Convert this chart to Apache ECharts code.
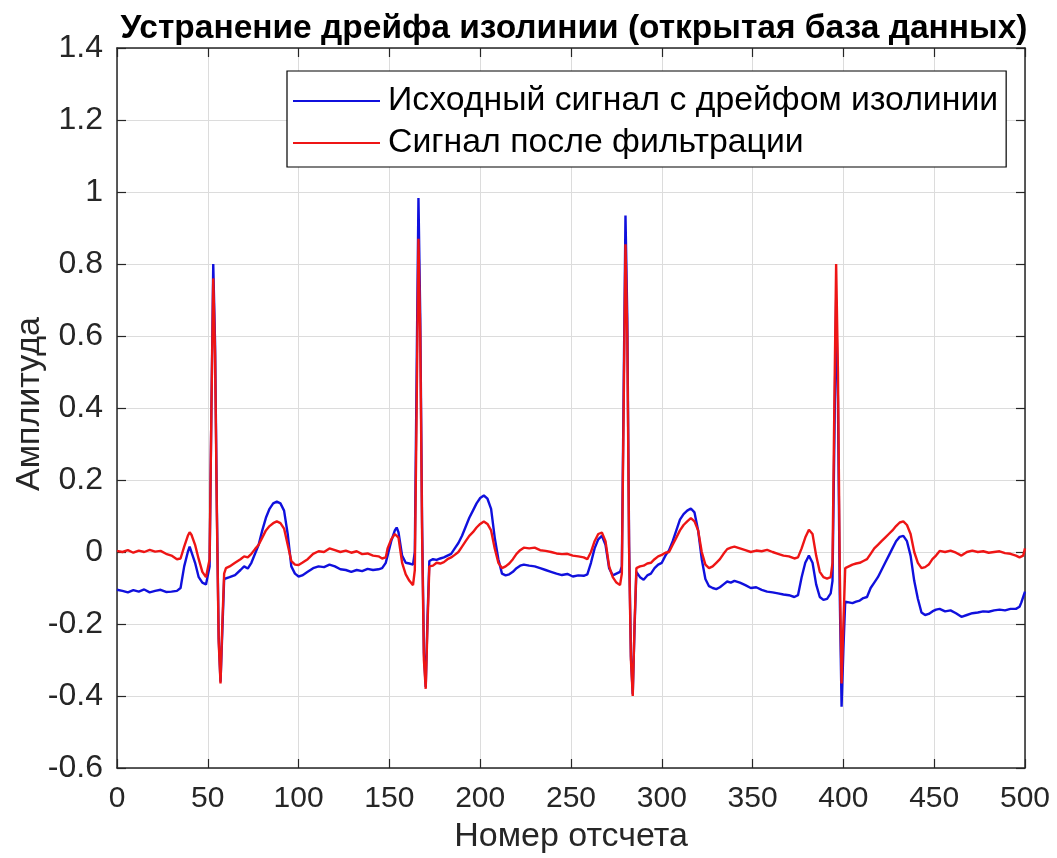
<!DOCTYPE html>
<html>
<head>
<meta charset="utf-8">
<script src="https://cdn.jsdelivr.net/npm/echarts@6/dist/echarts.min.js"></script>
<style>
  html, body { margin: 0; padding: 0; background: #fff; }
  #chart { width: 1057px; height: 858px; }
</style>
</head>
<body>
<div id="chart"></div>
<script>
// Sample numbers (x) shared by both traces
const sampleIdx = [
  0, 3, 6, 9, 12, 15, 18, 21, 24, 27, 30, 33, 35, 37, 39, 40, 41, 43, 45, 47, 49, 50,
  51, 52, 53, 54, 55, 56, 57, 58, 59, 60, 62, 65, 68, 70, 72, 74, 76, 78, 80, 82, 84, 86, 88, 90,
  92, 94, 96, 98, 100, 102, 105, 108, 111, 114, 117, 120, 123, 126, 129, 132, 135, 138, 141, 144,
  146, 148, 149, 151, 153, 154, 155, 157, 159, 161, 163, 164, 165, 166, 167, 168, 169, 170, 171, 172,
  174, 176, 178, 180, 182, 184, 186, 188, 190, 192, 194, 196, 198, 200, 202, 204, 206, 208, 210, 212,
  214, 216, 218, 220, 222, 224, 227, 230, 233, 236, 239, 242, 245, 248, 251, 254, 257, 259, 261, 263,
  265, 267, 269, 271, 273, 275, 277, 278, 279, 280, 281, 282, 283, 284, 285, 286, 288, 290, 292, 294,
  296, 298, 300, 302, 304, 306, 308, 310, 312, 314, 316, 318, 320, 322, 324, 326, 328, 330, 332, 334,
  336, 338, 340, 343, 346, 349, 352, 355, 358, 361, 364, 367, 370, 373, 375, 377, 379, 381, 382, 383,
  385, 387, 389, 391, 393, 394, 395, 396, 397, 398, 399, 400, 401, 403, 405, 407, 409, 411, 413, 415,
  417, 419, 421, 423, 425, 427, 429, 431, 433, 435, 437, 439, 441, 443, 445, 447, 449, 451, 453, 456,
  459, 462, 465, 468, 471, 474, 477, 480, 483, 486, 489, 492, 495, 497, 498, 499, 500
];

// Raw ECG with baseline wander
const rawSignal = [
  -0.105, -0.108, -0.112, -0.106, -0.110, -0.104, -0.112, -0.108, -0.105, -0.111, -0.110, -0.108, -0.100, -0.040, 0.000, 0.015, 0.010, -0.030, -0.070, -0.085, -0.090, -0.085,
  -0.040, 0.400, 0.800, 0.580, 0.120, -0.240, -0.360, -0.220, -0.075, -0.072, -0.070, -0.064, -0.050, -0.040, -0.046, -0.030, -0.005, 0.020, 0.060, 0.095, 0.120, 0.135, 0.140, 0.135,
  0.115, 0.050, -0.040, -0.060, -0.068, -0.065, -0.055, -0.045, -0.040, -0.042, -0.035, -0.040, -0.048, -0.050, -0.055, -0.050, -0.053, -0.047, -0.050, -0.048,
  -0.045, -0.030, -0.010, 0.030, 0.060, 0.068, 0.055, -0.010, -0.030, -0.032, -0.035, 0.000, 0.500, 0.983, 0.650, 0.080, -0.280, -0.375, -0.180, -0.025,
  -0.020, -0.022, -0.018, -0.015, -0.010, -0.005, 0.010, 0.025, 0.045, 0.070, 0.095, 0.115, 0.135, 0.150, 0.157, 0.148, 0.120, 0.040, -0.020, -0.060,
  -0.065, -0.062, -0.055, -0.045, -0.038, -0.035, -0.038, -0.040, -0.045, -0.050, -0.055, -0.060, -0.064, -0.061, -0.068, -0.065, -0.066, -0.062, -0.030, 0.010,
  0.035, 0.045, 0.020, -0.045, -0.065, -0.060, -0.055, -0.040, 0.450, 0.935, 0.650, 0.020, -0.290, -0.395, -0.210, -0.055, -0.070, -0.077, -0.065, -0.060,
  -0.045, -0.035, -0.030, -0.010, 0.005, 0.030, 0.060, 0.090, 0.105, 0.115, 0.121, 0.110, 0.060, -0.020, -0.075, -0.095, -0.100, -0.103, -0.098, -0.090,
  -0.082, -0.085, -0.080, -0.085, -0.092, -0.100, -0.098, -0.105, -0.110, -0.112, -0.115, -0.118, -0.120, -0.125, -0.120, -0.070, -0.030, -0.010, -0.008, -0.030,
  -0.090, -0.125, -0.133, -0.130, -0.115, -0.080, 0.300, 0.700, 0.420, -0.120, -0.430, -0.270, -0.138, -0.140, -0.142, -0.138, -0.135, -0.128, -0.125, -0.100,
  -0.085, -0.070, -0.050, -0.030, -0.010, 0.010, 0.030, 0.042, 0.045, 0.030, -0.010, -0.080, -0.130, -0.168, -0.175, -0.172, -0.165, -0.160, -0.158, -0.165,
  -0.162, -0.170, -0.180, -0.175, -0.170, -0.168, -0.165, -0.166, -0.162, -0.160, -0.162, -0.158, -0.158, -0.152, -0.140, -0.125, -0.110
];

// Same record after baseline removal
const filteredSignal = [
  0.003, 0.000, 0.005, -0.002, 0.004, 0.000, 0.006, 0.001, 0.003, -0.005, -0.010, -0.020, -0.018, 0.015, 0.045, 0.055, 0.048, 0.020, -0.020, -0.055, -0.070, -0.068,
  -0.020, 0.400, 0.760, 0.550, 0.100, -0.250, -0.365, -0.200, -0.060, -0.045, -0.040, -0.030, -0.020, -0.012, -0.015, -0.005, 0.008, 0.020, 0.040, 0.060, 0.072, 0.080, 0.085, 0.080,
  0.065, 0.020, -0.025, -0.035, -0.036, -0.030, -0.020, -0.005, 0.002, 0.000, 0.010, 0.005, 0.000, 0.004, -0.002, 0.002, -0.006, -0.004, -0.010, -0.012,
  -0.018, -0.015, 0.010, 0.035, 0.050, 0.052, 0.040, -0.030, -0.062, -0.080, -0.092, -0.050, 0.400, 0.870, 0.600, 0.050, -0.300, -0.380, -0.200, -0.040,
  -0.038, -0.030, -0.032, -0.028, -0.020, -0.015, -0.008, 0.000, 0.015, 0.030, 0.045, 0.055, 0.068, 0.078, 0.085, 0.078, 0.060, 0.010, -0.030, -0.045,
  -0.040, -0.032, -0.020, -0.005, 0.005, 0.012, 0.010, 0.012, 0.005, 0.003, 0.000, -0.004, -0.006, -0.005, -0.010, -0.012, -0.015, -0.020, 0.000, 0.030,
  0.050, 0.054, 0.030, -0.040, -0.070, -0.085, -0.092, -0.060, 0.400, 0.855, 0.600, 0.000, -0.300, -0.400, -0.200, -0.045, -0.040, -0.038, -0.032, -0.030,
  -0.020, -0.012, -0.008, -0.002, 0.000, 0.020, 0.040, 0.060, 0.075, 0.085, 0.094, 0.085, 0.060, 0.000, -0.035, -0.045, -0.040, -0.030, -0.020, -0.005,
  0.008, 0.012, 0.015, 0.010, 0.005, 0.000, 0.004, 0.002, 0.006, 0.000, -0.005, -0.010, -0.012, -0.018, -0.015, 0.010, 0.040, 0.062, 0.066, 0.050,
  -0.010, -0.055, -0.070, -0.074, -0.070, -0.030, 0.400, 0.800, 0.500, -0.050, -0.365, -0.200, -0.045, -0.040, -0.035, -0.032, -0.030, -0.025, -0.020, -0.005,
  0.010, 0.020, 0.030, 0.040, 0.050, 0.060, 0.072, 0.082, 0.085, 0.075, 0.050, 0.000, -0.030, -0.045, -0.042, -0.035, -0.020, -0.010, 0.003, 0.000,
  0.004, -0.002, -0.010, 0.000, 0.004, 0.000, 0.002, -0.002, 0.000, 0.002, -0.003, -0.005, -0.010, -0.015, -0.018, -0.010, 0.010
];

const xTickLabels = ['0', '50', '100', '150', '200', '250', '300', '350', '400', '450', '500'];
const yTickLabels = ['-0.6', '-0.4', '-0.2', '0', '0.2', '0.4', '0.6', '0.8', '1', '1.2', '1.4'];

const titleText = 'Устранение дрейфа изолинии (открытая база данных)';
const xName = 'Номер отсчета';
const yName = 'Амплитуда';
const rawName = 'Исходный сигнал с дрейфом изолинии';
const filteredName = 'Сигнал после фильтрации';

const FONT = '"Liberation Sans", Arial, Helvetica, sans-serif';
const INK = '#262626';

function pairs(xs, ys) {
  return xs.map((x, i) => [x, ys[i]]);
}

function xLabel(v) {
  const i = Math.round(v / 50);
  return xTickLabels[i] !== undefined ? xTickLabels[i] : '';
}
function yLabel(v) {
  const i = Math.round((v + 0.6) / 0.2);
  return yTickLabels[i] !== undefined ? yTickLabels[i] : '';
}

const chart = echarts.init(document.getElementById('chart'), null, { renderer: 'canvas' });

const baseX = {
  type: 'value', min: 0, max: 500, interval: 50,
  axisLine: { show: true, onZero: false, lineStyle: { color: INK, width: 1.5 } },
  axisTick: { show: true, inside: true, length: 9, lineStyle: { color: INK, width: 1.2 } }
};
const baseY = {
  type: 'value', min: -0.6, max: 1.4, interval: 0.2,
  axisLine: { show: true, onZero: false, lineStyle: { color: INK, width: 1.5 } },
  axisTick: { show: true, inside: true, length: 9, lineStyle: { color: INK, width: 1.2 } }
};

chart.setOption({
  backgroundColor: '#ffffff',
  animation: false,
  title: {
    text: titleText,
    left: 569, top: 7, textAlign: 'center',
    textStyle: { fontFamily: FONT, fontWeight: 'bold', fontSize: 33.5, color: '#000' }
  },
  grid: { left: 117, right: 32, top: 48, bottom: 90, containLabel: false, outerBoundsMode: 'none' },
  legend: {
    orient: 'vertical',
    left: 287, top: 71,
    backgroundColor: '#ffffff',
    borderColor: '#000000', borderWidth: 1.2,
    padding: [12, 8, 6, 6],
    icon: 'rect',
    itemWidth: 87, itemHeight: 2.2, itemGap: 6,
    textStyle: { fontFamily: FONT, fontSize: 33.8, color: '#000', lineHeight: 36, padding: [0, 0, 0, 3] },
    data: [rawName, filteredName]
  },
  xAxis: [
    Object.assign({}, baseX, {
      position: 'bottom',
      name: xName, nameLocation: 'middle', nameGap: 52, nameMoveOverlap: false,
      nameTextStyle: { fontFamily: FONT, fontSize: 34, color: INK },
      axisLabel: { show: true, margin: 16, fontFamily: FONT, fontSize: 30, color: INK, formatter: xLabel },
      splitLine: { show: true, lineStyle: { color: '#dcdcdc', width: 1 } }
    }),
    Object.assign({}, baseX, {
      position: 'top',
      axisLabel: { show: false },
      splitLine: { show: false }
    })
  ],
  yAxis: [
    Object.assign({}, baseY, {
      position: 'left',
      name: yName, nameLocation: 'middle', nameGap: 70, nameRotate: 90, nameMoveOverlap: false,
      nameTextStyle: { fontFamily: FONT, fontSize: 34, color: INK, padding: [0, 0, 0, 8] },
      axisLabel: { show: true, margin: 14, fontFamily: FONT, fontSize: 32, color: INK, formatter: yLabel },
      splitLine: { show: true, lineStyle: { color: '#dcdcdc', width: 1 } }
    }),
    Object.assign({}, baseY, {
      position: 'right',
      axisLabel: { show: false },
      splitLine: { show: false }
    })
  ],
  series: [
    {
      name: rawName, type: 'line', xAxisIndex: 0, yAxisIndex: 0,
      data: pairs(sampleIdx, rawSignal),
      symbol: 'none', smooth: false,
      lineStyle: { color: '#1010dd', width: 2.4 },
      itemStyle: { color: '#1010dd' },
      z: 2
    },
    {
      name: filteredName, type: 'line', xAxisIndex: 0, yAxisIndex: 0,
      data: pairs(sampleIdx, filteredSignal),
      symbol: 'none', smooth: false,
      lineStyle: { color: '#ee1515', width: 2.4 },
      itemStyle: { color: '#ee1515' },
      z: 3
    }
  ]
});
</script>
</body>
</html>
